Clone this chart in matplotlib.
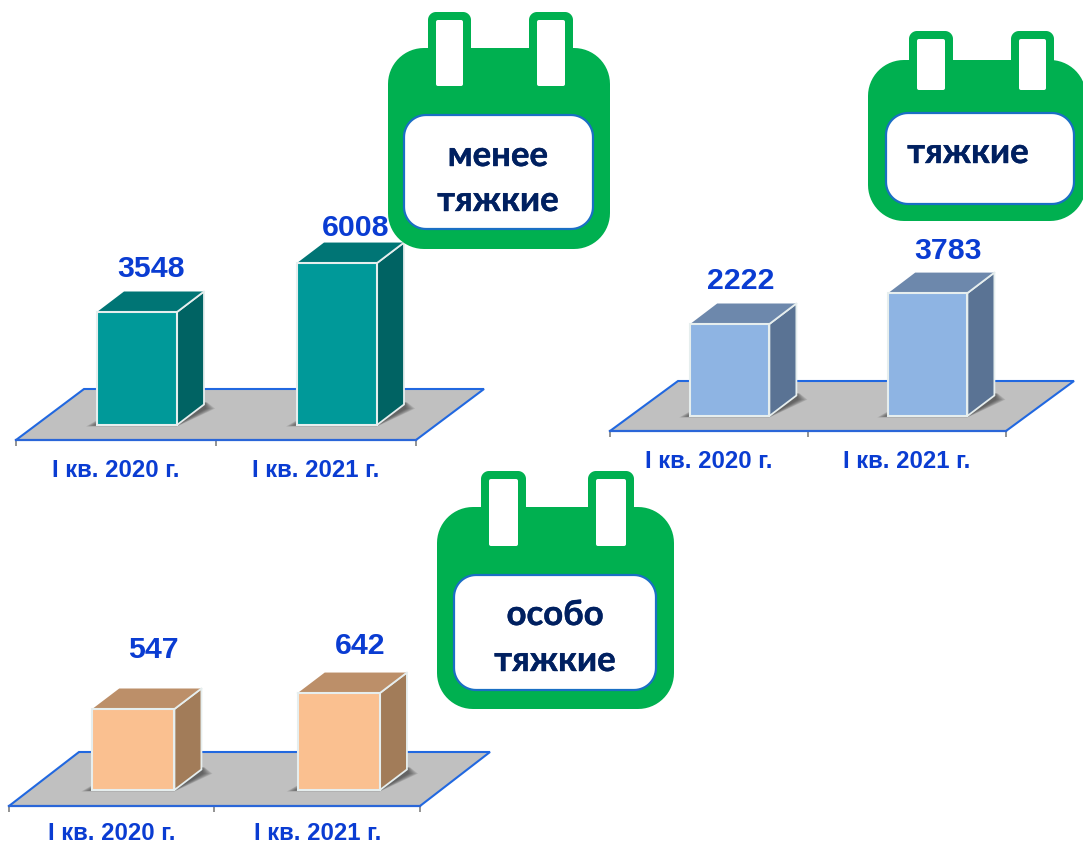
#!/usr/bin/env python3
import matplotlib
matplotlib.use("Agg")
import matplotlib.pyplot as plt
import matplotlib.patheffects as pe
import numpy as np

W, H = 1083, 845

quarters = ["I кв. 2020 г.", "I кв. 2021 г."]
values_less = [3548, 6008]
values_grave = [2222, 3783]
values_very = [547, 642]

BLUE_TXT = "#0a3cd2"
NAVY = "#002060"
GREEN = "#00b050"
EDGE = "#2168e0"

fig = plt.figure(figsize=(W / 100, H / 100), dpi=100, facecolor="white")


def add_chart(vals, left, right, front_y, back_y, back_left, floor_y, base, scale,
              cols, label_off, pad=13):
    # axes sits on the front edge of the floor, one y unit = 1/scale px
    top_px = front_y - 250
    ax = fig.add_axes([left / W, 1 - front_y / H, (right - left) / W, (front_y - top_px) / H])
    ax.patch.set_alpha(0)
    ax.set_xlim(0, 2)
    y0 = base - (front_y - floor_y) / scale
    ax.set_ylim(y0, y0 + 250 / scale)
    xpx = (right - left) / 2
    ypx = scale

    # floor
    fdx = (back_left - left) / xpx
    fdy = (front_y - back_y) / ypx
    ax.fill([0, 2, 2 + fdx, fdx], [y0, y0, y0 + fdy, y0 + fdy], fc="#c0c0c0",
            ec="none", clip_on=False, zorder=1)
    ax.plot([0, fdx, 2 + fdx, 2], [y0, y0 + fdy, y0 + fdy, y0], color=EDGE, lw=1.5,
            clip_on=False, zorder=1.5, solid_joinstyle="miter")

    dx = 27 / xpx
    dy = 20.5 / ypx
    width = 0.4
    for i, v in enumerate(vals):
        xl = i + 0.405
        xr = xl + width
        # soft shadow round the foot of the box
        for k in range(7):
            g = (11 - k * 1.5) / xpx
            low = (1.5 - k * 0.2) / ypx
            ax.fill([xl - g, xr, xr + dx + g, xr + dx + g * 0.3, xl + dx],
                    [base - low, base - low, base + dy * 0.8, base + dy * 1.1, base + dy],
                    fc="#2a2a2a", ec="none", alpha=0.12, zorder=2)
        ax.bar(xl + width / 2, v - base, width, bottom=base, color=cols[0],
               ec="#e6eeee", lw=1.5, zorder=4)
        ax.fill([xr, xr + dx, xr + dx, xr], [base, base + dy, v + dy, v], fc=cols[2],
                ec="#e6eeee", lw=1.3, zorder=3, clip_on=False)
        ax.fill([xl, xr, xr + dx, xl + dx], [v, v, v + dy, v + dy], fc=cols[1],
                ec="none", zorder=3, clip_on=False)
        ax.plot([xl, xr, xr + dx], [v, v, v + dy], color="#e6eeee", lw=1.3, zorder=5,
                clip_on=False)
        ax.annotate(str(v), xy=(xl + width / 2, v), xytext=label_off[i],
                    textcoords="offset pixels", ha="center", va="center",
                    color=BLUE_TXT, fontsize=21.8, fontweight="bold",
                    family="Liberation Sans", zorder=6, annotation_clip=False)

    for s in ["left", "right", "top"]:
        ax.spines[s].set_visible(False)
    ax.spines["bottom"].set_color("#2a66d8")
    ax.spines["bottom"].set_linewidth(1.6)
    ax.spines["bottom"].set_zorder(2)
    ax.set_yticks([])
    ax.set_xticks([0, 1, 2])
    ax.set_xticklabels([])
    ax.set_xticks([0.5, 1.5], minor=True)
    ax.set_xticklabels(quarters, minor=True, color=BLUE_TXT, fontsize=17.2,
                       fontweight="bold", family="Liberation Sans")
    ax.tick_params(axis="x", which="major", color="#808080", length=4.5, width=1.2)
    ax.tick_params(axis="x", which="minor", length=0, pad=pad)
    return ax


add_chart(values_less, 16, 416, 441, 390, 84, 426, 3548 - 113 / 0.0199, 0.0199,
          ["#009999", "#007575", "#006363"], [(14, 44), (19, 36)])
add_chart(values_grave, 610, 1006, 432, 382, 678, 417, 2222 - 92 / 0.0198, 0.0198,
          ["#8eb4e3", "#6d88ac", "#5a7394"], [(11, 44), (20, 43)])
# bottom row sits right at the image edge, labels pulled up a touch so they stay whole
add_chart(values_very, 9, 420, 807, 753, 79, 791, 547 - 81 / 0.168, 0.168,
          ["#fac090", "#bc8f69", "#a27c59"], [(20, 60), (21, 48)], pad=10.5)

# calendars on top, drawn in image pixels
over = fig.add_axes([0, 0, 1, 1], zorder=10)
over.set_xlim(0, W)
over.set_ylim(H, 0)
over.axis("off")
over.patch.set_alpha(0)


def rbox(x0, y0, x1, y1, r, fc, ec="none", lw=0, z=1):
    # rounded rectangle with true circular corners
    t = np.linspace(0, np.pi / 2, 16)
    xs = np.concatenate([x1 - r + r * np.cos(t), x0 + r - r * np.sin(t),
                         x0 + r - r * np.cos(t), x1 - r + r * np.sin(t)])
    ys = np.concatenate([y1 - r + r * np.sin(t), y1 - r + r * np.cos(t),
                         y0 + r - r * np.sin(t), y0 + r - r * np.cos(t)])
    over.fill(xs, ys, fc=fc, ec=ec, lw=lw, zorder=z, clip_on=False)


def calendar(body, rings, ring_top, slot_bottom, window, lines):
    for xa, xb in rings:
        rbox(xa, ring_top, xb, body[1] + 12, 8, GREEN, z=1)
    rbox(*body, 36, GREEN, z=2)
    for xa, xb in rings:
        rbox(xa + 8, ring_top + 8, xb - 8, slot_bottom, 2, "white", z=3)
    rbox(*window, 22, "white", ec="#1a6fc4", lw=1.6, z=3)
    for txt, x, y in lines:
        over.text(x, y, txt, ha="center", va="center", color=NAVY, fontsize=25,
                  fontweight="bold", family=["Lato", "Open Sans"], zorder=4,
                  path_effects=[pe.withStroke(linewidth=0.3, foreground=NAVY)])


calendar((388, 49, 610, 250), [(428, 471), (529, 573)], 13, 87, (404, 116, 593, 230),
         [("менее", 498, 157), ("тяжкие", 498, 202)])
calendar((868, 61, 1086, 222), [(909, 953), (1011, 1054)], 32, 91, (886, 114, 1074, 205),
         [("тяжкие", 968, 154)])
calendar((437, 508, 674, 710), [(481, 526), (588, 634)], 472, 547, (454, 576, 656, 691),
         [("особо", 555, 616), ("тяжкие", 555, 662)])

fig.savefig("out.png", dpi=100)
plt.close(fig)
